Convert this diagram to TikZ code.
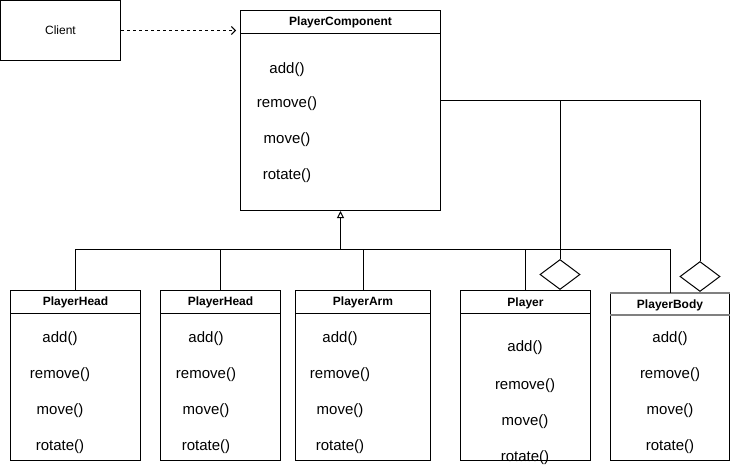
\documentclass[tikz,border=0pt]{standalone}
\usepackage{fontspec}
\setmainfont{Liberation Sans}
\usetikzlibrary{shapes.geometric,arrows.meta,positioning}
\definecolor{headgray}{HTML}{808080}

\begin{document}
\begin{tikzpicture}[
    x=1pt, y=-1pt, line width=1pt,
    classbox/.style={rectangle, draw=black, anchor=north west, inner sep=0pt},
    title/.style={font=\fontsize{12}{14}\selectfont\bfseries, inner sep=0pt,
                  text height=10pt, text depth=2pt},
    method/.style={font=\fontsize{15}{18}\selectfont, inner sep=0pt,
                   text height=11pt, text depth=3pt},
    aggr/.style={diamond, draw=black, fill=white, minimum width=40pt,
                 minimum height=30pt, inner sep=0pt, anchor=south},
    uses/.style={dash pattern=on 3pt off 3pt, -{Straight Barb[length=4pt, width=8pt]},
                 shorten >=4pt},
    inherit/.style={-{Triangle[open, length=7pt, width=7pt]}}
]
    \useasboundingbox (0,0) rectangle (731,471);

    % Client
    \node[classbox, minimum width=120pt, minimum height=60pt,
          font=\fontsize{12}{14}\selectfont] (client) at (0,0) {Client};

    % PlayerComponent
    \node[classbox, minimum width=200pt, minimum height=200pt] (comp) at (240,10) {};
    \draw ([yshift=-23pt]comp.north west) -- ([yshift=-23pt]comp.north east);
    \node[title] (comp-title) at ([yshift=-11.5pt]comp.north) {PlayerComponent};
    \foreach \m/\y [count=\i] in {add()/69, remove()/103, move()/139, rotate()/175}
        \node[method] (comp-m\i) at (287,\y) {\m};

    % Leaf classes
    \foreach \n/\t/\x/\w/\mx in {head1/PlayerHead/10/130/60, head2/PlayerHead/160/120/206,
                                 arm/PlayerArm/295/135/340} {
        \node[classbox, minimum width=\w pt, minimum height=170pt] (\n) at (\x,290) {};
        \draw ([yshift=-23pt]\n.north west) -- ([yshift=-23pt]\n.north east);
        \node[title] (\n-title) at ([yshift=-11.5pt]\n.north) {\t};
        \foreach \m/\y [count=\i] in {add()/338, remove()/374, move()/410, rotate()/446}
            \node[method] (\n-m\i) at (\mx,\y) {\m};
    }

    % Player
    \node[classbox, minimum width=130pt, minimum height=170pt] (player) at (460,290) {};
    \draw ([yshift=-23pt]player.north west) -- ([yshift=-23pt]player.north east);
    \node[title] (player-title) at ([yshift=-12pt]player.north) {Player};
    \foreach \m/\y [count=\i] in {add()/347, remove()/385, move()/421, rotate()/457}
        \node[method] (player-m\i) at (525,\y) {\m};

    % PlayerBody
    \node[classbox, minimum width=119pt, minimum height=167pt] (body) at (610,293) {};
    \draw[headgray, line width=1.6pt] (body.north west) -- (body.north east);
    \draw[headgray, line width=1.6pt] ([yshift=-22pt]body.north west) -- ([yshift=-22pt]body.north east);
    \node[title] (body-title) at ([yshift=-11pt]body.north) {PlayerBody};
    \foreach \m/\y [count=\i] in {add()/338, remove()/374, move()/410, rotate()/446}
        \node[method] (body-m\i) at (670,\y) {\m};

    % Client uses PlayerComponent
    \draw[uses] (client.east) -- (client.east -| comp.west);

    % Inheritance
    \coordinate (bus) at (340,249);
    \draw (head1.north) |- (body.north |- bus) -- (body.north);
    \foreach \c in {head2,arm,player}
        \draw (\c.north) -- (\c.north |- bus);
    \draw[inherit] (comp.south |- bus) -- (comp.south);

    % Aggregation
    \coordinate (agg) at ([yshift=10pt]comp.east);
    \node[aggr] (dplayer) at (560,290) {};
    \node[aggr] (dbody) at (700,292) {};
    \draw (agg) -| (dbody.north);
    \draw (dplayer.north |- agg) -- (dplayer.north);
\end{tikzpicture}
\end{document}
